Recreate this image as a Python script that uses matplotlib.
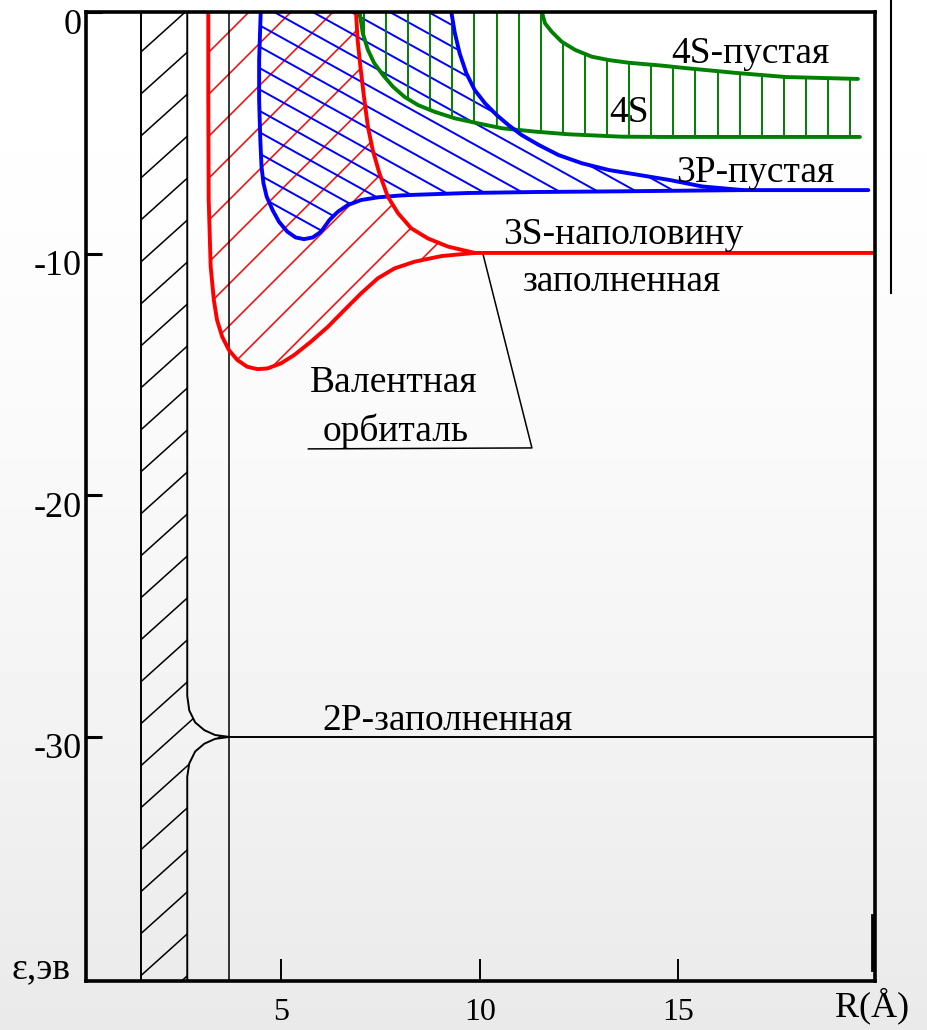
import numpy as np
import matplotlib
matplotlib.use("Agg")
import matplotlib.pyplot as plt
from matplotlib.patches import Polygon
from matplotlib.lines import Line2D
from matplotlib.transforms import IdentityTransform, ScaledTranslation

plt.rcParams['font.family'] = ['Liberation Serif', 'DejaVu Serif']

# --- Data: R in angstrom, energy in eV ---
# core (hatched) band and its cusp at the 2P level
band_left = 1.46
band_right_x = [2.63, 2.63, 2.68, 2.83, 3.06, 3.33, 3.69, 3.33, 3.06, 2.83, 2.68, 2.63, 2.63]
band_right_y = [0.0, -28.3, -28.9, -29.4, -29.72, -29.92, -30.0, -30.08, -30.28, -30.6, -31.1, -31.65, -40.1]
core_r = 3.69

# 2P filled level
p2_level = -30.0

# 3S half-filled (valence) orbital
s3_low_x = [3.16, 3.16, 3.17, 3.22, 3.30, 3.38, 3.51, 3.68, 3.89, 4.14, 4.40, 4.65, 4.99, 5.32, 5.74,
            6.17, 6.59, 7.01, 7.43, 7.85, 8.36, 9.03, 9.87, 19.95]
s3_low_y = [0.0, -3.64, -7.78, -10.54, -11.92, -12.75, -13.44, -13.99, -14.40, -14.68, -14.78, -14.75,
            -14.54, -14.20, -13.65, -13.03, -12.33, -11.64, -11.02, -10.61, -10.33, -10.10, -9.97, -9.97]
s3_up_x = [6.88, 6.92, 6.99, 7.08, 7.18, 7.30, 7.47, 7.68, 7.94, 8.27, 8.69, 9.20, 9.87]
s3_up_y = [0.0, -1.16, -2.26, -3.50, -4.75, -5.71, -6.68, -7.64, -8.33, -8.95, -9.37, -9.71, -9.97]

# 3P empty orbital
p3_low_x = [4.48, 4.44, 4.44, 4.47, 4.50, 4.55, 4.63, 4.78, 4.94, 5.15, 5.36, 5.57, 5.79, 6.00, 6.21,
            6.42, 6.67, 7.01, 7.43, 7.94, 8.27, 9.71, 11.38, 13.58, 16.62, 19.78]
p3_low_y = [0.0, -1.99, -3.64, -5.30, -6.40, -7.09, -7.64, -8.20, -8.68, -9.09, -9.33, -9.40, -9.33,
            -9.09, -8.61, -8.27, -7.99, -7.78, -7.67, -7.60, -7.57, -7.49, -7.45, -7.42, -7.37, -7.37]
p3_up_x = [9.28, 9.37, 9.49, 9.66, 9.87, 10.13, 10.42, 10.72, 11.05, 11.48, 11.98, 12.57, 13.25, 13.92,
           14.77, 15.60, 16.62]
p3_up_y = [0.0, -0.88, -1.71, -2.54, -3.23, -3.78, -4.26, -4.68, -5.09, -5.50, -5.92, -6.26, -6.54,
           -6.72, -6.95, -7.22, -7.37]

# 4S empty orbital
s4_low_x = [6.97, 7.05, 7.18, 7.34, 7.56, 7.81, 8.10, 8.44, 8.86, 9.37, 9.96, 10.55, 11.39, 12.23,
            13.58, 14.57, 19.57]
s4_low_y = [0.0, -0.88, -1.57, -2.12, -2.61, -3.09, -3.51, -3.85, -4.13, -4.40, -4.61, -4.81, -4.95,
            -5.06, -5.16, -5.17, -5.17]
s4_up_x = [11.56, 11.64, 11.81, 12.06, 12.40, 12.82, 13.25, 13.75, 14.59, 15.17, 16.44, 17.70, 19.52]
s4_up_y = [0.0, -0.47, -0.82, -1.23, -1.57, -1.85, -1.99, -2.10, -2.22, -2.32, -2.52, -2.69, -2.77]

# leader line to "Валентная орбиталь"
lead_x = [10.07, 11.31, 5.68]
lead_y = [-9.97, -18.04, -18.08]

x_ticks = [5, 10, 15]
y_ticks = [0, -10, -20, -30]
y_tick_labels = ["0", "-10", "-20", "-30"]

RED, BLUE, GREEN = "#ff0000", "#0000ff", "#008000"

fig = plt.figure(figsize=(9.28, 10.30), dpi=100)

# --- soft grey background gradient ---
bg = fig.add_axes([0, 0, 1, 1], zorder=-5)
t = np.linspace(0, 1, 256)[:, None]
bg.imshow(1.0 - 0.085 * t ** 1.6, aspect='auto', cmap='gray', vmin=0, vmax=1, extent=[0, 1, 0, 1])
bg.axis('off')

ax = fig.add_axes([86 / 928, 1 - 981 / 1030, (875 - 86) / 928, (981 - 12) / 1030])
ax.set_facecolor('none')
ax.set_xlim(0.08, 19.95)
ax.set_ylim(-40.1, 0)


def hatch(xs, ys, color, angle, spacing, anchor, lw):
    """Parallel lines (pixel space) clipped to the polygon xs, ys."""
    patch = Polygon(np.column_stack([xs, ys]), closed=True, fill=False,
                    edgecolor='none', transform=ax.transData)
    ax.add_patch(patch)
    th = np.radians(angle)
    d = np.array([np.cos(th), np.sin(th)])
    nrm = np.array([-d[1], d[0]])
    W, H = fig.bbox.width, fig.bbox.height
    proj = np.array([[0, 0], [W, 0], [0, H], [W, H]]) @ nrm
    c0 = np.array(anchor) @ nrm
    L = np.hypot(W, H)
    for k in np.arange(np.floor((proj.min() - c0) / spacing), np.ceil((proj.max() - c0) / spacing) + 1):
        p = nrm * (c0 + k * spacing)
        seg = np.array([p - d * L, p + d * L])
        ln = Line2D(seg[:, 0], seg[:, 1], color=color, lw=lw, transform=IdentityTransform(), zorder=1.5)
        ln.set_clip_path(patch)
        ax.add_line(ln)


# --- hatched regions ---
band_x = [band_left, band_left] + band_right_x[::-1]
band_y = [0.0, -40.1] + band_right_y[::-1]
hatch(band_x, band_y, "black", 42, 31.2, (142, 979), 1.1)

hatch(s3_low_x[:-1] + s3_up_x[::-1], s3_low_y[:-1] + s3_up_y[::-1], RED, 45, 29.7, (213, 982), 1.1)
hatch(p3_low_x[:-1] + p3_up_x[::-1], p3_low_y[:-1] + p3_up_y[::-1], BLUE, -29, 18.7, (263, 960), 1.4)
hatch(s4_low_x + s4_up_x[::-1], s4_low_y + s4_up_y[::-1], GREEN, 90, 22.1, (386, 500), 1.4)

# --- black core lines ---
ax.plot([band_left, band_left], [0, -40.1], color="black", lw=1.4, zorder=3)
ax.plot(band_right_x, band_right_y, color="black", lw=1.4, zorder=3)
ax.plot([core_r, core_r], [0, -40.1], color="black", lw=1.1, zorder=3)
ax.plot([core_r, 19.95], [p2_level, p2_level], color="black", lw=1.4, zorder=3)
ax.plot(lead_x, lead_y, color="black", lw=1.1, zorder=3)

# --- orbital curves ---
kw = dict(lw=2.8, solid_joinstyle='round', solid_capstyle='round')
ax.plot(s4_low_x, s4_low_y, color=GREEN, zorder=4, **kw)
ax.plot(s4_up_x, s4_up_y, color=GREEN, zorder=4, **kw)
ax.plot(p3_low_x, p3_low_y, color=BLUE, zorder=4.5, **kw)
ax.plot(p3_up_x, p3_up_y, color=BLUE, zorder=4.5, **kw)
ax.plot(s3_low_x, s3_low_y, color=RED, zorder=5, **kw)
ax.plot(s3_up_x, s3_up_y, color=RED, zorder=5, **kw)

# --- labels ---
fs = 27
ax.text(14.82, -2.10, "4S-пустая", fontsize=fs, va='baseline', zorder=6)
ax.text(13.26, -4.54, "4S", fontsize=fs, va='baseline', zorder=6)
ax.text(14.95, -7.02, "3P-пустая", fontsize=fs, va='baseline', zorder=6)
ax.text(10.58, -9.62, "3S-наполовину", fontsize=fs, va='baseline', zorder=6)
ax.text(11.09, -11.56, "заполненная", fontsize=fs, va='baseline', zorder=6)
ax.text(5.73, -15.72, "Валентная", fontsize=fs, va='baseline', zorder=6)
ax.text(6.04, -17.75, "орбиталь", fontsize=fs, va='baseline', zorder=6)
ax.text(6.04, -29.72, "2P-заполненная", fontsize=fs, va='baseline', zorder=6)
ax.text(-1.8, -40.0, "ε,эв", fontsize=fs, va='baseline', clip_on=False)
ax.text(18.95, -41.55, "R(Å)", fontsize=26, va='baseline', clip_on=False)

# --- axes styling ---
for s in ax.spines.values():
    s.set_linewidth(2.6)
    s.set_zorder(7)
ax.set_xticks(x_ticks)
ax.set_xticklabels([str(v) for v in x_ticks])
ax.set_yticks(y_ticks)
ax.set_yticklabels(y_tick_labels)
ax.tick_params(axis='x', direction='in', length=16, width=1.4, pad=12, labelsize=23)
ax.tick_params(axis='y', direction='in', length=11.5, width=2.2, pad=3, labelsize=26)
for lab in ax.get_yticklabels():
    lab.set_transform(lab.get_transform() + ScaledTranslation(0, -0.09, fig.dpi_scale_trans))

# stray frame lines from the original slide
fig.add_artist(Line2D([891 / 928, 891 / 928], [1.0, 1 - 293 / 1030], color="black", lw=1.5))
fig.add_artist(Line2D([872 / 928, 872 / 928], [1 - 915 / 1030, 1 - 970 / 1030], color="black", lw=2.0))

fig.savefig("out.png", dpi=100)
